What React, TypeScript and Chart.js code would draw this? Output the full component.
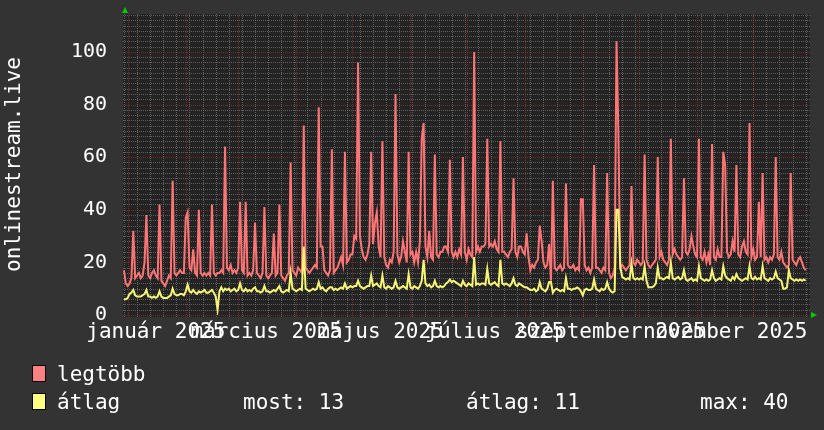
import React, { useEffect, useRef } from "react";
import { Chart, registerables } from "chart.js";

Chart.register(...registerables);

// ---- data (one value per day, first value = 2024-12-30) ----
const START_DAY = -2; // day 0 = 2025-01-01

const LEGTOBB = [
  17, 12,
  /* 0 */ 11, 12, 14, 32, 14, 15, 16, 14, 15, 20,
  /* 10 */ 38, 15, 14, 16, 17, 15, 14, 42, 13, 12,
  /* 20 */ 11, 13, 15, 14, 51, 16, 15, 16, 17, 16,
  /* 30 */ 16, 37, 39, 18, 17, 25, 16, 15, 40, 16,
  /* 40 */ 15, 16, 15, 16, 15, 42, 16, 15, 16, 16,
  /* 50 */ 17, 16, 64, 18, 17, 19, 16, 17, 16, 18,
  /* 60 */ 43, 17, 16, 43, 15, 16, 15, 17, 35, 16,
  /* 70 */ 15, 14, 16, 41, 15, 14, 15, 16, 31, 15,
  /* 80 */ 16, 42, 15, 14, 13, 15, 16, 58, 17, 16,
  /* 90 */ 15, 18, 17, 16, 72, 18, 17, 16, 17, 18,
  /* 100 */ 19, 18, 79, 26, 26, 17, 16, 15, 17, 63,
  /* 110 */ 16, 17, 18, 20, 22, 19, 62, 20, 21, 23,
  /* 120 */ 23, 30, 29, 96, 30, 25, 22, 21, 23, 27,
  /* 130 */ 62, 27, 35, 39, 26, 22, 66, 22, 19, 18,
  /* 140 */ 21, 20, 24, 84, 23, 20, 22, 28, 24, 20,
  /* 150 */ 62, 23, 24, 20, 24, 20, 28, 67, 73, 26,
  /* 160 */ 22, 32, 22, 21, 61, 23, 22, 24, 24, 26,
  /* 170 */ 26, 24, 59, 24, 22, 24, 22, 25, 23, 60,
  /* 180 */ 24, 21, 25, 23, 22, 100, 24, 26, 24, 26,
  /* 190 */ 26, 27, 67, 26, 27, 26, 28, 25, 24, 66,
  /* 200 */ 24, 24, 23, 22, 24, 25, 52, 24, 22, 26,
  /* 210 */ 26, 24, 23, 31, 22, 17, 19, 18, 20, 21,
  /* 220 */ 34, 28, 20, 18, 19, 27, 13, 51, 18, 17,
  /* 230 */ 18, 19, 17, 18, 50, 19, 18, 18, 19, 17,
  /* 240 */ 18, 17, 44, 44, 19, 17, 18, 16, 18, 57,
  /* 250 */ 18, 18, 17, 16, 18, 17, 54, 16, 14, 15,
  /* 260 */ 18, 104, 69, 18, 19, 18, 17, 18, 19, 49,
  /* 270 */ 20, 19, 21, 20, 19, 20, 61, 21, 19, 18,
  /* 280 */ 19, 20, 21, 60, 22, 24, 21, 20, 19, 21,
  /* 290 */ 67, 23, 25, 23, 22, 21, 22, 52, 24, 23,
  /* 300 */ 25, 30, 26, 23, 22, 67, 22, 21, 24, 20,
  /* 310 */ 23, 19, 65, 22, 21, 25, 22, 22, 62, 57,
  /* 320 */ 24, 22, 23, 28, 24, 57, 23, 22, 26, 28,
  /* 330 */ 24, 23, 73, 22, 25, 21, 22, 43, 22, 54,
  /* 340 */ 21, 22, 20, 22, 21, 23, 60, 22, 21, 24,
  /* 350 */ 20, 19, 18, 19, 54, 21, 20, 19, 21, 22,
  /* 360 */ 20, 18, 17,
];

const ATLAG = [
  6, 6,
  /* 0 */ 6.5, 8, 8.5, 9.5, 7.5, 7, 7, 7, 7.5, 8,
  /* 10 */ 9.5, 7, 7, 6.5, 7, 6.5, 7, 9, 7, 6.5,
  /* 20 */ 6.5, 6.5, 7, 7.5, 10, 8, 7.5, 7.5, 8, 8,
  /* 30 */ 7.5, 9, 11.5, 9, 8.5, 9.5, 8.5, 8, 9, 8.5,
  /* 40 */ 9, 9.5, 8.5, 8.5, 9, 9.5, 8.5, 7, 2, 9,
  /* 50 */ 10.5, 9, 10, 9.5, 10, 9, 9.5, 10, 9, 9.5,
  /* 60 */ 12, 9.5, 9, 10, 9, 9.5, 9, 10, 10.5, 9,
  /* 70 */ 9, 8.5, 9, 11, 9, 9, 8.5, 9, 9.5, 9,
  /* 80 */ 10, 11, 9, 8.5, 9, 9.5, 9, 16, 10, 9.5,
  /* 90 */ 9, 9.5, 10, 9.5, 26, 10, 9.5, 9, 9.5, 10,
  /* 100 */ 9.5, 10, 12.5, 10, 10.5, 9.5, 9, 10, 10.5, 10.5,
  /* 110 */ 9.5, 10, 9.5, 10, 10.5, 10, 12, 10, 10.5, 11,
  /* 120 */ 10.5, 11, 11, 13, 11, 10.5, 10, 10.5, 11, 11,
  /* 130 */ 15, 11, 11.5, 12, 11, 10.5, 15, 10.5, 10, 11,
  /* 140 */ 10.5, 10, 10.5, 13, 10.5, 10, 10.5, 11, 10.5, 10,
  /* 150 */ 15.5, 10.5, 10, 11, 10.5, 10, 11, 13, 21, 12,
  /* 160 */ 11, 11.5, 10.5, 11, 13, 11, 10.5, 11, 10.5, 11,
  /* 170 */ 12, 12.5, 13.5, 12.5, 13, 12.5, 12, 11.5, 11, 13,
  /* 180 */ 11.5, 11, 12, 11.5, 11, 22, 11.5, 12, 11.5, 12,
  /* 190 */ 12, 11.5, 17.5, 12, 11.5, 12, 12.5, 11.5, 11, 21,
  /* 200 */ 12, 11.5, 12, 11.5, 11, 12, 14, 11.5, 11, 12,
  /* 210 */ 11.5, 11, 10.5, 10.5, 10, 9.5, 9.5, 10, 9, 9.5,
  /* 220 */ 12.5, 10, 9.5, 9, 10, 12.5, 12.5, 8.5, 9.5, 10,
  /* 230 */ 9.5, 9, 9.5, 9, 14, 10, 10, 9.5, 10, 10,
  /* 240 */ 10.5, 10, 9, 7.5, 9.5, 10, 9.5, 9.5, 10, 13.5,
  /* 250 */ 10, 9.5, 9, 10, 9.5, 10, 12.5, 10, 9, 8.5,
  /* 260 */ 9, 40, 40, 18.5, 14.5, 14, 13.5, 14, 13.5, 19.5,
  /* 270 */ 14, 13.5, 14, 13.5, 14, 13.5, 18.5, 13, 10.5, 10.5,
  /* 280 */ 10.5, 11, 12, 18, 14, 14, 13.5, 14, 14.5, 14,
  /* 290 */ 20, 14, 13.5, 14, 14.5, 13.5, 14, 17, 13.5, 13,
  /* 300 */ 13.5, 14, 13, 13.5, 13, 18.5, 14, 13.5, 13, 13.5,
  /* 310 */ 13, 13.5, 17, 14, 13, 13.5, 14, 13.5, 18.5, 15,
  /* 320 */ 14, 13.5, 13, 14.5, 13.5, 15.5, 14, 13.5, 13, 13.5,
  /* 330 */ 14, 13.5, 18.5, 14, 13.5, 14.5, 13.5, 14, 13.5, 18.5,
  /* 340 */ 14, 13.5, 13, 14, 13.5, 14, 16.5, 14, 13.5, 13,
  /* 350 */ 10, 10, 10.5, 17, 14, 13.5, 13, 13.5, 13, 13.5,
  /* 360 */ 13, 13.5, 13,
];

const X_MIN = -2.5;
const X_MAX = 364.3;
const Y_MAX = 114.4;

const MONTH_START_DAYS = [0, 31, 59, 90, 120, 151, 181, 212, 243, 273, 304, 334];
const MONTH_LABEL_DAYS = [15, 74, 135, 196, 258, 319];
const MONTH_LABELS = [
  "január 2025",
  "március 2025",
  "május 2025",
  "július 2025",
  "szeptember 2025",
  "november 2025",
];
const Y_TICKS = [0, 20, 40, 60, 80, 100];
const FIRST_MONDAY = -2;

const LEGEND_ROWS = [
  { name: "legtöbb", color: "#ff8080" },
  { name: "átlag", color: "#ffff80" },
];
const STATS = ["most: 13", "átlag: 11", "max: 40"];

// ---- styles ----
const BG = "#333333";
const PLOT_BG = "#232323";
const MINOR = "rgba(120,120,120,0.7)";
const MAJOR = "rgba(170,50,50,0.6)";
const RED_LINE = "#ff7575";
const YEL_LINE = "#f6f674";
const MONO = "'DejaVu Sans Mono', monospace";

const rrdPlugin = {
  id: "rrdGrid",
  beforeDatasetsDraw(chart: any) {
    const { ctx, chartArea: a, scales } = chart;
    const x = scales.x;
    const y = scales.y;
    ctx.save();
    ctx.fillStyle = PLOT_BG;
    ctx.fillRect(a.left, a.top, a.right - a.left, a.bottom - a.top + 2);
    ctx.lineWidth = 1;
    ctx.setLineDash([1, 1]);
    const hline = (v: number, color: string) => {
      const py = Math.round(y.getPixelForValue(v)) + 0.5;
      ctx.strokeStyle = color;
      ctx.beginPath();
      ctx.moveTo(a.left, py);
      ctx.lineTo(a.right, py);
      ctx.stroke();
    };
    const vline = (d: number, color: string) => {
      const px = Math.round(x.getPixelForValue(d)) + 0.5;
      if (px < a.left || px > a.right) return;
      ctx.strokeStyle = color;
      ctx.beginPath();
      ctx.moveTo(px, a.top);
      ctx.lineTo(px, a.bottom + 2);
      ctx.stroke();
    };
    for (let v = 0; v <= Y_MAX; v += 2) if (v % 20 !== 0) hline(v, MINOR);
    for (let d = FIRST_MONDAY; d <= X_MAX; d += 7) vline(d, MINOR);
    Y_TICKS.forEach((v) => hline(v, MAJOR));
    MONTH_START_DAYS.forEach((d) => vline(d, MAJOR));
    ctx.restore();
  },
  afterDraw(chart: any) {
    const { ctx, chartArea: a } = chart;
    ctx.save();
    ctx.fillStyle = "#00cc00";
    ctx.beginPath();
    ctx.moveTo(a.left + 2, a.top - 7);
    ctx.lineTo(a.left - 1, a.top - 1);
    ctx.lineTo(a.left + 5, a.top - 1);
    ctx.closePath();
    ctx.fill();
    ctx.beginPath();
    ctx.moveTo(a.right + 7, a.bottom);
    ctx.lineTo(a.right + 1, a.bottom - 3);
    ctx.lineTo(a.right + 1, a.bottom + 3);
    ctx.closePath();
    ctx.fill();
    ctx.restore();
  },
};

export default function App() {
  const ref = useRef<HTMLCanvasElement | null>(null);

  useEffect(() => {
    if (!ref.current) return;
    const chart = new Chart(ref.current, {
      type: "line",
      data: {
        datasets: [
          {
            label: "legtöbb",
            data: LEGTOBB.map((v, i) => ({ x: START_DAY + i, y: v })),
            borderColor: RED_LINE,
            borderWidth: 2,
            pointRadius: 0,
            tension: 0,
            fill: false,
            order: 2,
          },
          {
            label: "átlag",
            data: ATLAG.map((v, i) => ({ x: START_DAY + i, y: v })),
            borderColor: YEL_LINE,
            borderWidth: 2,
            pointRadius: 0,
            tension: 0,
            fill: false,
            order: 1,
          },
        ],
      },
      options: {
        responsive: false,
        animation: false,
        events: [],
        layout: { padding: { top: 14, right: 14, left: 0, bottom: 0 } },
        plugins: {
          legend: { display: false },
          tooltip: { enabled: false },
        },
        scales: {
          x: {
            type: "linear",
            min: X_MIN,
            max: X_MAX,
            grid: { display: false },
            border: { display: false },
            afterBuildTicks: (s: any) => {
              s.ticks = MONTH_LABEL_DAYS.map((d) => ({ value: d }));
            },
            afterFit: (s: any) => {
              s.height = 115;
              s.paddingLeft = 0;
              s.paddingRight = 0;
            },
            ticks: {
              autoSkip: false,
              maxRotation: 0,
              minRotation: 0,
              padding: -3,
              color: "#ffffff",
              font: { family: MONO, size: 21 },
              callback: (v: any) => {
                const k = MONTH_LABEL_DAYS.indexOf(Number(v));
                return k >= 0 ? MONTH_LABELS[k] : "";
              },
            },
          },
          y: {
            min: 0,
            max: Y_MAX,
            grid: { display: false },
            border: { display: false },
            afterBuildTicks: (s: any) => {
              s.ticks = Y_TICKS.map((v) => ({ value: v }));
            },
            afterFit: (s: any) => {
              s.width = 123;
              s.paddingTop = 0;
              s.paddingBottom = 0;
            },
            ticks: {
              padding: 8,
              color: "#ffffff",
              font: { family: MONO, size: 20 },
            },
            title: {
              display: true,
              text: "onlinestream.live",
              color: "#ffffff",
              font: { family: MONO, size: 21 },
              padding: { top: 2, bottom: 0 },
            },
          },
        },
      },
      plugins: [rrdPlugin],
    } as any);
    return () => chart.destroy();
  }, []);

  const textStyle: React.CSSProperties = {
    position: "absolute",
    fontFamily: MONO,
    fontSize: 21,
    lineHeight: "24px",
    color: "#ffffff",
    whiteSpace: "pre",
  };

  return (
    <div
      style={{
        position: "fixed",
        left: 0,
        top: 0,
        width: 824,
        height: 430,
        background: BG,
        overflow: "hidden",
      }}
    >
      <canvas ref={ref} width={824} height={430} style={{ position: "absolute", left: 0, top: 0 }} />
      {LEGEND_ROWS.map((r, i) => (
        <React.Fragment key={r.name}>
          <div
            style={{
              position: "absolute",
              left: 32,
              top: 365 + i * 28,
              width: 14,
              height: 17,
              boxSizing: "border-box",
              background: r.color,
              border: "1px solid #000",
            }}
          />
          <div style={{ ...textStyle, left: 57, top: 362 + i * 28 }}>{r.name}</div>
        </React.Fragment>
      ))}
      <div style={{ ...textStyle, left: 243, top: 390 }}>{STATS[0]}</div>
      <div style={{ ...textStyle, left: 466, top: 390 }}>{STATS[1]}</div>
      <div style={{ ...textStyle, left: 700, top: 390 }}>{STATS[2]}</div>
    </div>
  );
}
